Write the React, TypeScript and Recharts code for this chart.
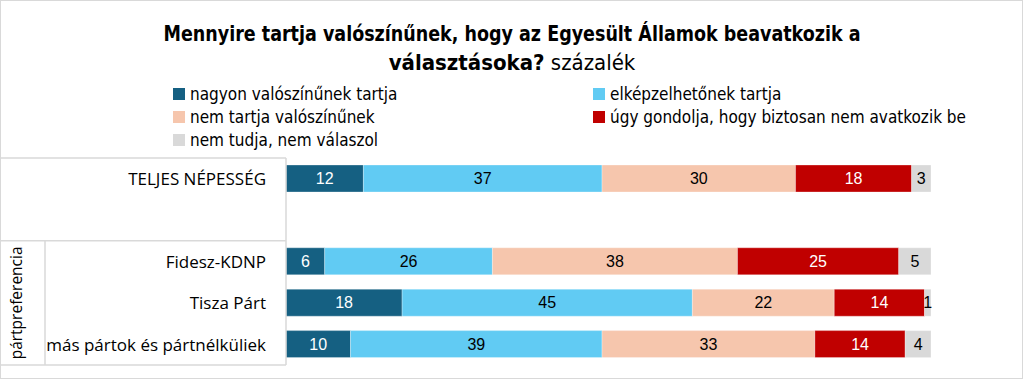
import React from "react";
import { BarChart, Bar, XAxis, YAxis, LabelList } from "recharts";

const categories = ["TELJES NÉPESSÉG", "", "Fidesz-KDNP", "Tisza Párt", "más pártok és pártnélküliek"];
const groupLabel = "pártpreferencia";
const seriesNames = [
  "nagyon valószínűnek tartja",
  "elképzelhetőnek tartja",
  "nem tartja valószínűnek",
  "úgy gondolja, hogy biztosan nem avatkozik be",
  "nem tudja, nem válaszol",
];
const nagyon = [12, null, 6, 18, 10];
const elkep = [37, null, 26, 45, 39];
const nemTartja = [30, null, 38, 22, 33];
const biztosan = [18, null, 25, 14, 14];
const nemTudja = [3, null, 5, 1, 4];

const colors = ["#156082", "#61CBF3", "#F6C6AD", "#C00000", "#D9D9D9"];
const labelColors = ["#ffffff", "#000000", "#000000", "#ffffff", "#000000"];
const keys = ["s0", "s1", "s2", "s3", "s4"];
const seriesValues = [nagyon, elkep, nemTartja, biztosan, nemTudja];

const data = categories.map((cat, i) => {
  const row: any = { cat };
  keys.forEach((k, j) => {
    row[k] = seriesValues[j][i];
  });
  return row;
});

const W = 1024;
const H = 379;
const M = { top: 158, right: 93, bottom: 14, left: 0 };
const AXIS_W = 286;
const BAND = (H - M.top - M.bottom) / categories.length;
const LINE = "#d9d9d9";
const FONT = "'Liberation Sans', Arial, sans-serif";
const CAT_FONT = "'Open Sans', sans-serif";
const NARROW = "'Liberation Sans Narrow', 'DejaVu Sans Condensed', sans-serif";

const CatTick = (props: any) => {
  const { x, y, payload, index } = props;
  const parts: any[] = [];
  if (index === 0) {
    parts.push(<line key="l0" x1={0} x2={AXIS_W} y1={y - BAND / 2} y2={y - BAND / 2} stroke={LINE} strokeWidth={1.5} />);
  }
  if (index === 1) {
    parts.push(<line key="l1" x1={0} x2={AXIS_W} y1={y + BAND / 2} y2={y + BAND / 2} stroke={LINE} strokeWidth={1.5} />);
  }
  if (index === 2) {
    parts.push(<line key="l2" x1={45} x2={45} y1={y - BAND / 2} y2={y + BAND * 2.5} stroke={LINE} strokeWidth={1.5} />);
  }
  if (index === 3) {
    parts.push(
      <text key="g" x={16} y={y} transform={`rotate(-90 16 ${y})`} textAnchor="middle" dominantBaseline="central" fontFamily={CAT_FONT} fontSize={15.5} fill="#000">
        {groupLabel}
      </text>
    );
  }
  if (index === 4) {
    parts.push(<line key="l4" x1={0} x2={AXIS_W} y1={y + BAND / 2} y2={y + BAND / 2} stroke={LINE} strokeWidth={1.5} />);
  }
  return (
    <g>
      {parts}
      <text x={x - 12} y={y} textAnchor="end" dominantBaseline="central" fontFamily={CAT_FONT} fontSize={17} fill="#000">
        {payload.value}
      </text>
    </g>
  );
};

const LegendBlock = () => (
  <div
    style={{
      position: "absolute",
      top: 82,
      left: 173,
      display: "grid",
      gridTemplateColumns: "420px 420px",
      gridAutoRows: "23px",
      fontFamily: NARROW,
      fontSize: 17,
      color: "#000",
    }}
  >
    {seriesNames.map((n, i) => (
      <div key={n} style={{ display: "flex", alignItems: "center" }}>
        <span style={{ display: "inline-block", width: 12, height: 12, background: colors[i], marginRight: 5 }} />
        <span>{n}</span>
      </div>
    ))}
  </div>
);

export default function App() {
  return (
    <div style={{ position: "absolute", left: 0, top: 0, width: W, height: H, background: "#fff" }}>
      <div
        style={{
          position: "absolute",
          left: 0,
          top: 0,
          width: W - 1,
          height: H,
          border: `1.5px solid ${LINE}`,
          boxSizing: "border-box",
          pointerEvents: "none",
        }}
      />
      <div
        style={{
          position: "absolute",
          top: 19,
          left: 0,
          width: W,
          textAlign: "center",
          fontFamily: NARROW,
          fontSize: 22,
          lineHeight: "29px",
          color: "#000",
        }}
      >
        <div style={{ fontWeight: "bold", transform: "scaleX(0.885)", transformOrigin: "512px 0" }}>
          Mennyire tartja valószínűnek, hogy az Egyesült Államok beavatkozik a
        </div>
        <div>
          <b>választásoka?</b> százalék
        </div>
      </div>
      <LegendBlock />
      <BarChart layout="vertical" width={W} height={H} data={data} margin={M}>
        <XAxis type="number" domain={[0, 100]} hide />
        <YAxis
          type="category"
          dataKey="cat"
          width={AXIS_W}
          axisLine={{ stroke: LINE, strokeWidth: 1.5 }}
          tickLine={false}
          interval={0}
          tick={<CatTick />}
        />
        {keys.map((k, i) => (
          <Bar
            key={k}
            dataKey={k}
            name={seriesNames[i]}
            stackId="a"
            fill={colors[i]}
            barSize={27}
            stroke="#ffffff"
            strokeOpacity={0.4}
            strokeWidth={0.75}
            isAnimationActive={false}
          >
            <LabelList dataKey={k} position="center" fill={labelColors[i]} fontFamily={FONT} fontSize={16} />
          </Bar>
        ))}
      </BarChart>
    </div>
  );
}
